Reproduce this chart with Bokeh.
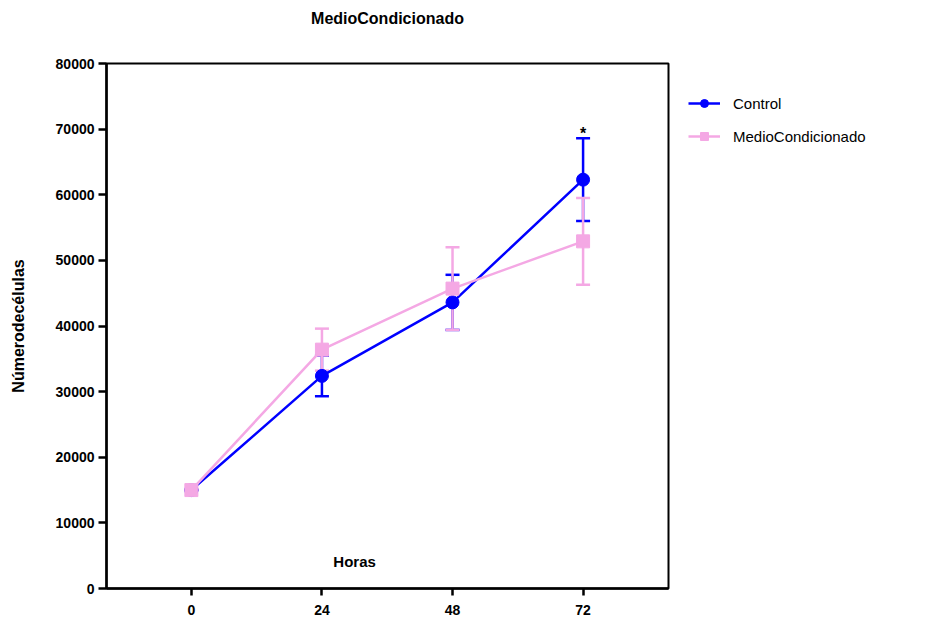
from bokeh.plotting import figure
from bokeh.models import (ColumnDataSource, Whisker, TeeHead, Range1d, FixedTicker,
                          Legend, LegendItem, Label, Title)
from bokeh.embed import file_html
from bokeh.resources import INLINE

hours = [0, 24, 48, 72]
control_mean = [15000, 32400, 43600, 62300]
control_sd = [0, 3100, 4200, 6300]
medio_mean = [15000, 36400, 45700, 52900]
medio_sd = [0, 3200, 6300, 6600]
series_names = ["Control", "MedioCondicionado"]
y_ticks = [0, 10000, 20000, 30000, 40000, 50000, 60000, 70000, 80000]

BLUE = "#0000FF"
PINK = "#F4A8E4"
FONT = "Liberation Sans"

p = figure(frame_width=562, frame_height=525, output_backend="svg", toolbar_location=None,
           x_range=Range1d(-15.6, 87.7), y_range=Range1d(0, 80000),
           min_border_left=106, min_border_right=282, min_border_top=63,
           min_border_bottom=32)
p.title = None
# blank spacer title next to the frame, real title above it
p.add_layout(Title(text=" ", text_font_size="10px", standoff=24), "above")
p.add_layout(Title(text="MedioCondicionado", align="center", text_font=FONT,
                   text_font_size="16px", text_font_style="bold", text_color="black",
                   standoff=0), "above")

p.grid.visible = False
p.background_fill_color = "white"
p.outline_line_color = "black"
p.outline_line_width = 2

for ax in (p.xaxis[0], p.yaxis[0]):
    ax.axis_line_width = 2.5
    ax.axis_line_color = "black"
    ax.major_tick_line_width = 2.5
    ax.major_tick_in = 0
    ax.minor_tick_line_color = None
    ax.major_label_text_font = FONT
    ax.major_label_text_font_style = "bold"
    ax.major_label_text_font_size = "14px"
    ax.major_label_text_color = "black"

p.xaxis.ticker = FixedTicker(ticks=hours)
p.xaxis.major_tick_out = 7
p.xaxis.major_label_standoff = 9
p.yaxis.ticker = FixedTicker(ticks=y_ticks)
p.yaxis.major_tick_out = 8
p.yaxis.major_label_standoff = 4
p.yaxis.axis_label = "Númerodecélulas"
p.yaxis.axis_label_text_font = FONT
p.yaxis.axis_label_text_font_style = "bold"
p.yaxis.axis_label_text_font_size = "16px"
p.yaxis.axis_label_text_color = "black"
p.yaxis.axis_label_standoff = 26

def src(mean, sd):
    return ColumnDataSource(dict(x=hours, y=mean,
                                 lo=[m - s for m, s in zip(mean, sd)],
                                 hi=[m + s for m, s in zip(mean, sd)]))

cs = src(control_mean, control_sd)
ms = src(medio_mean, medio_sd)

l1 = p.line("x", "y", source=cs, color=BLUE, line_width=2.5)
l2 = p.line("x", "y", source=ms, color=PINK, line_width=2.5)

for s, c in ((cs, BLUE), (ms, PINK)):
    w = Whisker(source=s, base="x", lower="lo", upper="hi",
                line_color=c, line_width=2.5,
                upper_head=TeeHead(size=14, line_color=c, line_width=2.5),
                lower_head=TeeHead(size=14, line_color=c, line_width=2.5))
    p.add_layout(w)

m1 = p.scatter("x", "y", source=cs, marker="circle", size=13, color=BLUE)
m2 = p.scatter("x", "y", source=ms, marker="square", size=13, color=PINK)

p.add_layout(Label(x=72, y=control_mean[3] + control_sd[3], text="*", text_align="center",
                   text_baseline="bottom", y_offset=-4, text_font=FONT,
                   text_font_size="16px", text_font_style="bold", text_color="black"))
p.add_layout(Label(x=30, y=4100, text="Horas", text_align="center", text_baseline="middle",
                   text_font=FONT, text_font_size="15px", text_font_style="bold",
                   text_color="black"))

legend = Legend(items=[LegendItem(label=series_names[0], renderers=[l1, m1]),
                       LegendItem(label=series_names[1], renderers=[l2, m2])],
                location="top_left", glyph_width=32, glyph_height=20, label_height=20,
                spacing=13, label_standoff=13, padding=10, margin=10,
                title=" ", title_text_font_size="2px", title_standoff=8,
                border_line_alpha=0, background_fill_alpha=0,
                label_text_font=FONT, label_text_font_size="15px",
                label_text_color="black")
p.add_layout(legend, "right")

open("out.html", "w").write(file_html(p, INLINE))
